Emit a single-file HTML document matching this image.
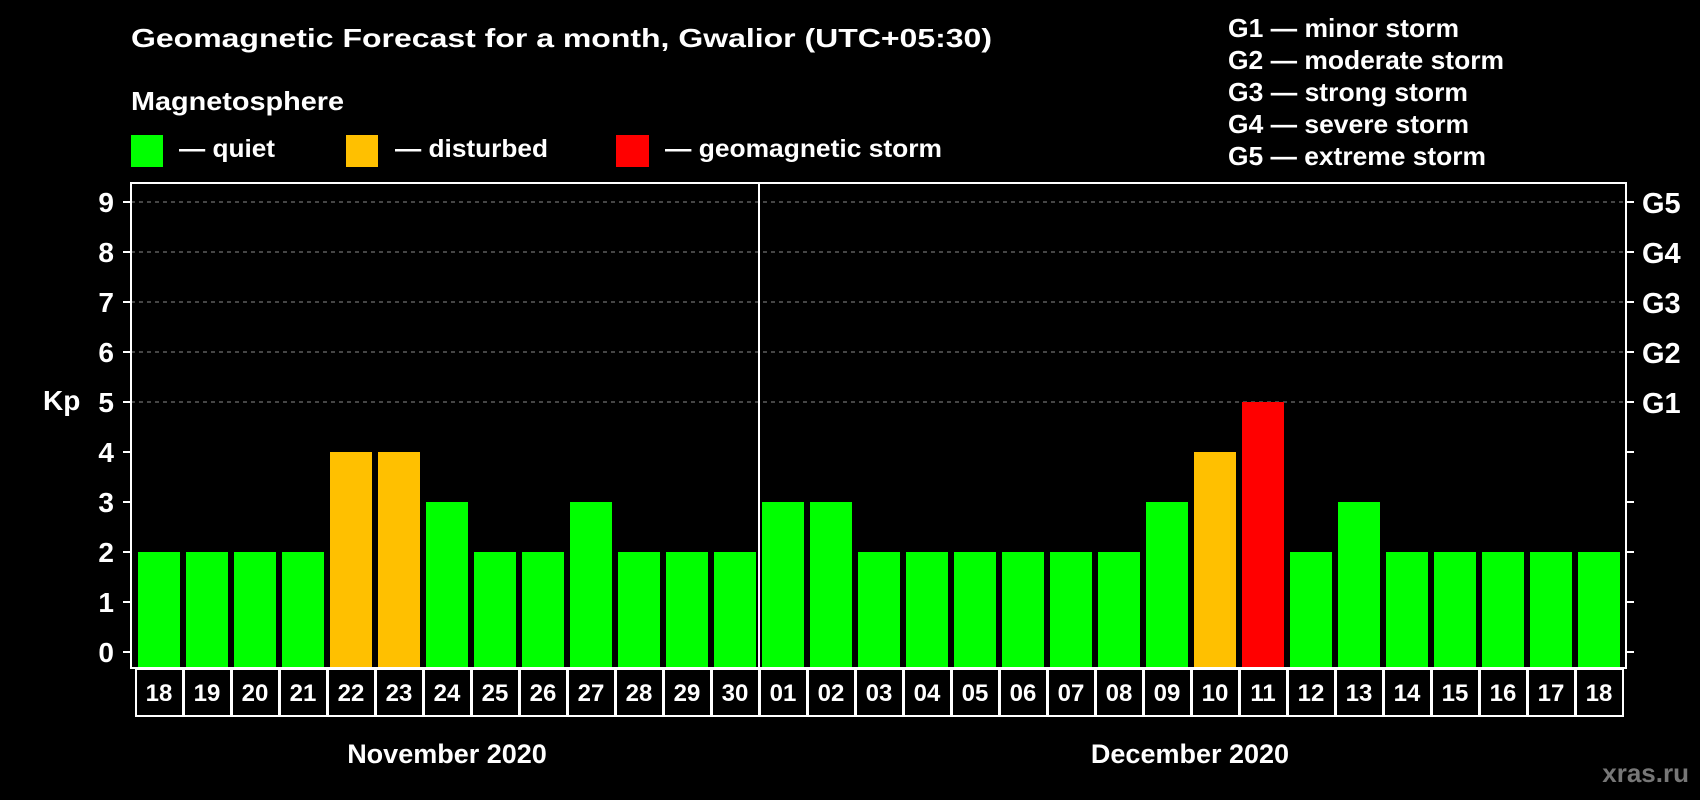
<!DOCTYPE html>
<html><head><meta charset="utf-8"><style>
html,body{margin:0;padding:0;background:#000;}
svg{display:block;font-family:"Liberation Sans",Arial,sans-serif;font-weight:bold;}
</style></head><body>
<svg id="chart" width="1700" height="800" viewBox="0 0 1700 800" xmlns="http://www.w3.org/2000/svg">
<rect width="1700" height="800" fill="#000"/>
<text x="131" y="47" fill="#fff" font-size="26" textLength="861" lengthAdjust="spacingAndGlyphs">Geomagnetic Forecast for a month, Gwalior (UTC+05:30)</text>
<text x="131" y="110" fill="#fff" font-size="26" textLength="213" lengthAdjust="spacingAndGlyphs">Magnetosphere</text>
<g><rect x="131" y="135" width="32" height="32" fill="#00ff00"/><text x="179" y="157" fill="#fff" font-size="25" textLength="96" lengthAdjust="spacingAndGlyphs">— quiet</text></g>
<g><rect x="346" y="135" width="32" height="32" fill="#ffc000"/><text x="395" y="157" fill="#fff" font-size="25" textLength="153" lengthAdjust="spacingAndGlyphs">— disturbed</text></g>
<g><rect x="616" y="135" width="33" height="32" fill="#ff0000"/><text x="665" y="157" fill="#fff" font-size="25" textLength="277" lengthAdjust="spacingAndGlyphs">— geomagnetic storm</text></g>
<g fill="#fff" font-size="26">
<text x="1228" y="37" textLength="231" lengthAdjust="spacingAndGlyphs">G1 — minor storm</text>
<text x="1228" y="69" textLength="276" lengthAdjust="spacingAndGlyphs">G2 — moderate storm</text>
<text x="1228" y="101" textLength="240" lengthAdjust="spacingAndGlyphs">G3 — strong storm</text>
<text x="1228" y="133" textLength="241" lengthAdjust="spacingAndGlyphs">G4 — severe storm</text>
<text x="1228" y="165" textLength="258" lengthAdjust="spacingAndGlyphs">G5 — extreme storm</text>
</g>
<g id="grid"></g><g id="bars"></g><g id="axes"></g><g id="labels"></g>
<text x="43" y="410" fill="#fff" font-size="28">Kp</text>
<text x="447" y="763" fill="#fff" font-size="27" text-anchor="middle">November 2020</text>
<text x="1190" y="763" fill="#fff" font-size="27" text-anchor="middle">December 2020</text>
<text x="1689" y="782" fill="#777" font-size="26" text-anchor="end">xras.ru</text>
</svg>
<script>
const days = ["18","19","20","21","22","23","24","25","26","27","28","29","30","01","02","03","04","05","06","07","08","09","10","11","12","13","14","15","16","17","18"];
const kpValues = [2,2,2,2,4,4,3,2,2,3,2,2,2,3,3,2,2,2,2,2,2,3,4,5,2,3,2,2,2,2,2];
const yTicks = [0,1,2,3,4,5,6,7,8,9];
const gLabels = ["G1","G2","G3","G4","G5"];
const gValues = [5,6,7,8,9];
const NS="http://www.w3.org/2000/svg";
const L=131,R=1626,T=183,B=668,slot0=135,pitch=48;
const y=v=>652-v*50;
const x=i=>slot0+i*pitch;
function mk(t,a,p){const e=document.createElementNS(NS,t);for(const k in a)e.setAttribute(k,a[k]);p.appendChild(e);return e;}
const grid=document.getElementById('grid'),bars=document.getElementById('bars'),axes=document.getElementById('axes'),labels=document.getElementById('labels');
gValues.forEach(v=>{const l=mk('line',{x1:L,x2:R,y1:y(v),y2:y(v),stroke:'#8a8a8a','stroke-width':1,'stroke-dasharray':'4,4'},grid);

});
kpValues.forEach((v,i)=>{const c=v>=5?'#ff0000':(v>=4?'#ffc000':'#00ff00');
const r=mk('rect',{x:x(i)+3,y:y(v),width:42,height:B-y(v),fill:c},bars);

});
const fr=mk('rect',{x:L,y:T,width:R-L,height:B-T,fill:'none',stroke:'#fff','stroke-width':2},axes);


const dv=mk('line',{x1:x(13),x2:x(13),y1:T,y2:B,stroke:'#fff','stroke-width':2},axes);


yTicks.forEach(v=>{
mk('line',{x1:L-8,x2:L,y1:y(v),y2:y(v),stroke:'#fff','stroke-width':2},axes);
mk('line',{x1:R,x2:R+8,y1:y(v),y2:y(v),stroke:'#fff','stroke-width':2},axes);
const t=mk('text',{x:114,y:y(v)+10,fill:'#fff','font-size':28,'text-anchor':'end'},labels);t.textContent=v;

});
gValues.forEach((v,i)=>{const t=mk('text',{x:1642,y:y(v)+11,fill:'#fff','font-size':29},labels);t.textContent=gLabels[i];

});
days.forEach((d,i)=>{const r=mk('rect',{x:x(i)+1,y:B+1,width:pitch-1,height:47,fill:'#000',stroke:'#fff','stroke-width':2},labels);


const t=mk('text',{x:x(i)+24,y:B+33,fill:'#fff','font-size':24,'text-anchor':'middle'},labels);t.textContent=d;

});
</script>
</body></html>
